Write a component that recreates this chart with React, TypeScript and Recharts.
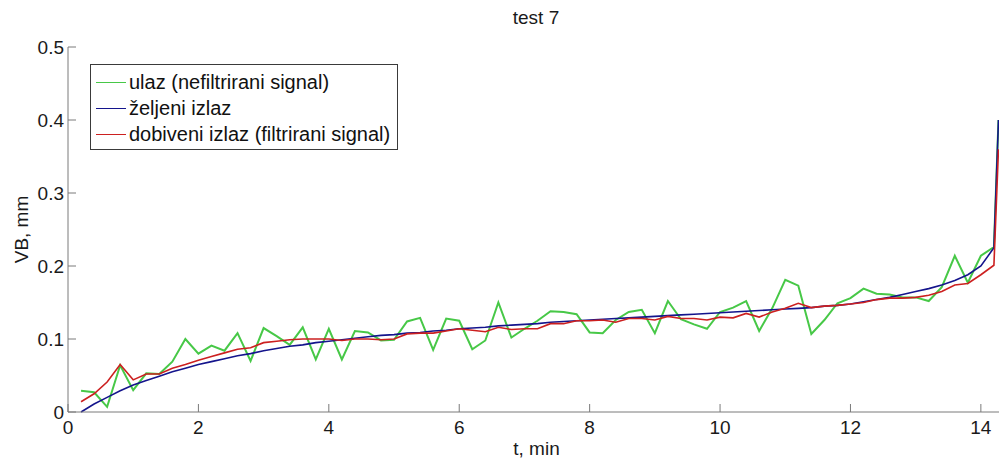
import { LineChart, Line, XAxis, YAxis, Legend } from 'recharts'

const FONT = '"Liberation Sans", Arial, sans-serif'

// time, min
const times = [
  0.2, 0.4, 0.6, 0.8, 1.0, 1.2, 1.4, 1.6, 1.8, 2.0, 2.2, 2.4, 2.6, 2.8, 3.0, 3.2, 3.4, 3.6,
  3.8, 4.0, 4.2, 4.4, 4.6, 4.8, 5.0, 5.2, 5.4, 5.6, 5.8, 6.0, 6.2, 6.4, 6.6, 6.8, 7.0, 7.2,
  7.4, 7.6, 7.8, 8.0, 8.2, 8.4, 8.6, 8.8, 9.0, 9.2, 9.4, 9.6, 9.8, 10.0, 10.2, 10.4, 10.6, 10.8,
  11.0, 11.2, 11.4, 11.6, 11.8, 12.0, 12.2, 12.4, 12.6, 12.8, 13.0, 13.2, 13.4, 13.6, 13.8, 14.0,
  14.2, 14.27,
]

// ulaz (nefiltrirani signal)
const ulaz = [
  0.029, 0.027, 0.007, 0.064, 0.030, 0.053, 0.052, 0.069, 0.100, 0.080, 0.091, 0.084, 0.108, 0.070,
  0.115, 0.104, 0.092, 0.116, 0.072, 0.114, 0.072, 0.111, 0.109, 0.098, 0.099, 0.124, 0.129, 0.085,
  0.128, 0.125, 0.086, 0.098, 0.150, 0.102, 0.114, 0.125, 0.138, 0.137, 0.134, 0.109, 0.108, 0.126,
  0.137, 0.140, 0.108, 0.152, 0.127, 0.120, 0.114, 0.137, 0.143, 0.152, 0.111, 0.142, 0.181, 0.173,
  0.107, 0.126, 0.149, 0.156, 0.169, 0.162, 0.161, 0.157, 0.157, 0.152, 0.171, 0.214, 0.177, 0.214,
  0.226, 0.400,
]

// željeni izlaz
const zeljeni = [
  0.000, 0.011, 0.020, 0.029, 0.037, 0.043, 0.049, 0.055, 0.060, 0.065, 0.069, 0.073, 0.077, 0.080,
  0.084, 0.087, 0.090, 0.092, 0.095, 0.097, 0.099, 0.101, 0.103, 0.105, 0.106, 0.108, 0.109, 0.111,
  0.112, 0.114, 0.115, 0.116, 0.118, 0.119, 0.120, 0.121, 0.123, 0.124, 0.125, 0.126, 0.127, 0.128,
  0.129, 0.130, 0.131, 0.132, 0.133, 0.134, 0.135, 0.136, 0.137, 0.138, 0.139, 0.140, 0.141, 0.142,
  0.143, 0.145, 0.146, 0.148, 0.151, 0.154, 0.157, 0.161, 0.165, 0.169, 0.174, 0.180, 0.188, 0.200,
  0.225, 0.400,
]

// dobiveni izlaz (filtrirani signal)
const dobiveni = [
  0.014, 0.025, 0.041, 0.065, 0.044, 0.052, 0.052, 0.060, 0.065, 0.071, 0.076, 0.081, 0.086, 0.088,
  0.095, 0.097, 0.099, 0.100, 0.100, 0.100, 0.098, 0.100, 0.100, 0.099, 0.100, 0.107, 0.108, 0.108,
  0.111, 0.114, 0.112, 0.110, 0.116, 0.113, 0.114, 0.114, 0.121, 0.121, 0.125, 0.125, 0.126, 0.123,
  0.128, 0.128, 0.126, 0.131, 0.128, 0.128, 0.126, 0.130, 0.129, 0.135, 0.130, 0.137, 0.142, 0.149,
  0.143, 0.145, 0.146, 0.148, 0.150, 0.154, 0.156, 0.156, 0.157, 0.160, 0.165, 0.174, 0.176, 0.188,
  0.201, 0.360,
]

const seriesNames = ['ulaz (nefiltrirani signal)', 'željeni izlaz', 'dobiveni izlaz (filtrirani signal)']

const xTicks = [0, 2, 4, 6, 8, 10, 12, 14]
const yTicks = [0, 0.1, 0.2, 0.3, 0.4, 0.5]
const yTickLabels = ['0', '0.1', '0.2', '0.3', '0.4', '0.5']

const data = times.map((t, i) => ({ t, ulaz: ulaz[i], zeljeni: zeljeni[i], dobiveni: dobiveni[i] }))

const AXIS = '#7a7a7a'
const TICK_LEN = 8

function BottomTick({ x, y, payload }: any) {
  return (
    <g>
      <line x1={x} y1={y} x2={x} y2={y - TICK_LEN} stroke={AXIS} strokeWidth={1} />
      <text x={x} y={y + 22} textAnchor="middle" fontSize={19} fontFamily={FONT} fill="#1a1a1a">
        {payload.value}
      </text>
    </g>
  )
}

function TopTick({ x, y }: any) {
  return <line x1={x} y1={y} x2={x} y2={y + TICK_LEN} stroke={AXIS} strokeWidth={1} />
}

function LeftTick({ x, y, payload, index }: any) {
  return (
    <g>
      <line x1={x} y1={y} x2={x + TICK_LEN} y2={y} stroke={AXIS} strokeWidth={1} />
      <text x={x - 4} y={y + 7} textAnchor="end" fontSize={19} fontFamily={FONT} fill="#1a1a1a">
        {yTickLabels[index] ?? payload.value}
      </text>
    </g>
  )
}

function RightTick({ x, y }: any) {
  return <line x1={x} y1={y} x2={x - TICK_LEN} y2={y} stroke={AXIS} strokeWidth={1} />
}

function LegendBox({ payload }: any) {
  const items = [...(payload || [])].sort(
    (a: any, b: any) => seriesNames.indexOf(a.value) - seriesNames.indexOf(b.value),
  )
  return (
    <div
      style={{
        boxSizing: 'border-box',
        width: 308,
        border: '1px solid #3a3a3a',
        background: '#fff',
        padding: '4px 4px 2px 5px',
        fontFamily: FONT,
        fontSize: 20,
        color: '#111',
      }}
    >
      {items.map((p: any) => (
        <div key={p.value} style={{ display: 'flex', alignItems: 'center', height: 26, whiteSpace: 'nowrap' }}>
          <span style={{ display: 'inline-block', width: 30, borderTop: `1.5px solid ${p.color}`, marginRight: 3 }} />
          {p.value}
        </div>
      ))}
    </div>
  )
}

export default function App() {
  return (
    <div style={{ position: 'absolute', left: 0, top: 0, width: 999, height: 462, overflow: 'hidden', background: '#fff' }}>
      <div
        style={{
          position: 'absolute',
          left: 436,
          top: 7,
          width: 200,
          textAlign: 'center',
          fontFamily: FONT,
          fontSize: 19,
          color: '#1a1a1a',
        }}
      >
        test 7
      </div>
      <LineChart width={1006} height={462} data={data} margin={{ top: 47, right: 0, bottom: 0, left: 0 }}>
        <XAxis
          dataKey="t"
          type="number"
          domain={[0, 14.37]}
          ticks={xTicks}
          allowDataOverflow
          height={50}
          stroke={AXIS}
          tickLine={false}
          tickSize={0}
          tickMargin={0}
          tick={<BottomTick />}
          interval={0}
          label={{ value: 't, min', position: 'insideBottom', offset: 7, fontSize: 19, fontFamily: FONT, fill: '#1a1a1a' }}
        />
        <XAxis
          xAxisId="top"
          dataKey="t"
          type="number"
          orientation="top"
          domain={[0, 14.37]}
          ticks={xTicks}
          allowDataOverflow
          height={0}
          stroke={AXIS}
          tickLine={false}
          tickSize={0}
          tickMargin={0}
          tick={<TopTick />}
          interval={0}
        />
        <YAxis
          type="number"
          domain={[0, 0.5]}
          ticks={yTicks}
          width={68}
          stroke={AXIS}
          tickLine={false}
          tickSize={0}
          tickMargin={0}
          tick={<LeftTick />}
          interval={0}
          label={{
            value: 'VB, mm',
            angle: -90,
            position: 'insideLeft',
            offset: 21,
            fontSize: 19,
            fontFamily: FONT,
            fill: '#1a1a1a',
            style: { textAnchor: 'middle' },
          }}
        />
        <YAxis
          yAxisId="right"
          orientation="right"
          type="number"
          domain={[0, 0.5]}
          ticks={yTicks}
          width={1}
          stroke={AXIS}
          tickLine={false}
          tickSize={0}
          tickMargin={0}
          tick={<RightTick />}
          interval={0}
        />
        <Legend
          layout="vertical"
          verticalAlign="middle"
          align="center"
          content={<LegendBox />}
          wrapperStyle={{ left: 90, top: 64, width: 308, height: 'auto' }}
        />
        <Line
          type="linear"
          dataKey="ulaz"
          name={seriesNames[0]}
          stroke="#47c847"
          strokeWidth={2}
          dot={false}
          isAnimationActive={false}
        />
        <Line
          type="linear"
          dataKey="zeljeni"
          name={seriesNames[1]}
          stroke="#14148c"
          strokeWidth={1.6}
          dot={false}
          isAnimationActive={false}
        />
        <Line
          type="linear"
          dataKey="dobiveni"
          name={seriesNames[2]}
          stroke="#cc2020"
          strokeWidth={1.6}
          dot={false}
          isAnimationActive={false}
        />
      </LineChart>
    </div>
  )
}
